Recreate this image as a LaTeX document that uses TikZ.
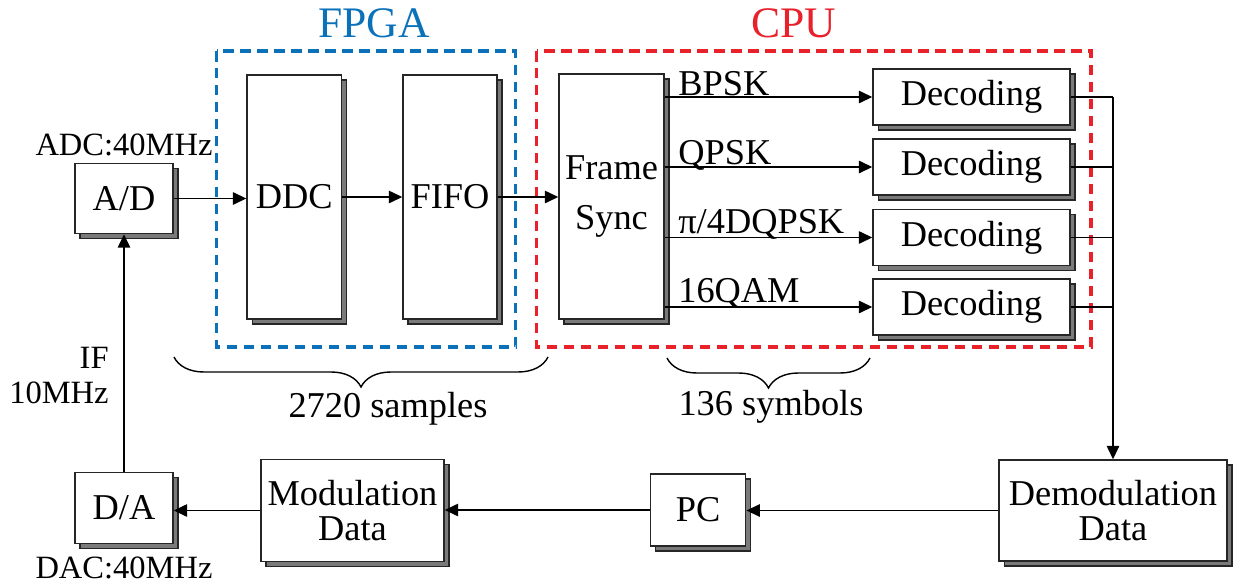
\documentclass[tikz,border=0pt]{standalone}
\usepackage{fontspec}
\setmainfont{Liberation Serif}
\usetikzlibrary{arrows.meta,shadows,decorations.pathreplacing}
\definecolor{fpgablue}{HTML}{0B72BA}
\definecolor{cpured}{HTML}{E8212B}
\definecolor{shadowgray}{HTML}{7A7A7A}
\begin{document}
\begin{tikzpicture}[x=0.02cm,y=-0.02cm,
  blk/.style={draw=black!85, line width=0.85pt, fill=white, inner sep=0pt, align=center,
    font=\fontsize{20.7}{24}\selectfont,
    general shadow={shadow xshift=0.1cm, shadow yshift=-0.1cm, fill=shadowgray, draw=black!85, line width=0.6pt}},
  arr/.style={line width=0.85pt, -{Triangle[length=0.27cm,width=0.25cm]}},
  ln/.style={line width=0.85pt},
  lbl/.style={font=\fontsize{20.7}{24}\selectfont, inner sep=0pt},
  side/.style={font=\fontsize{18.5}{22}\selectfont, inner sep=0pt},
  ttl/.style={font=\fontsize{24.8}{28}\selectfont, inner sep=0pt},
  grp/.style={line width=2pt, dash pattern=on 0.21cm off 0.13cm},
  brc/.style={line width=0.8pt, decorate, decoration={brace, mirror, amplitude=0.6cm}},
]
\useasboundingbox (0,0) rectangle (1238,585);

% group frames
\draw[grp, fpgablue] (216.7,51) rectangle (515.7,347);
\draw[grp, cpured] (536.7,51) rectangle (1091,347);
\node[ttl, text=fpgablue, anchor=base] (tfpga) at (374,37) {FPGA};
\node[ttl, text=cpured, anchor=base] (tcpu) at (794,37) {CPU};

% blocks
\node[blk, minimum width=1.96cm, minimum height=1.40cm] (ad) at (124,198.5) {A/D};
\node[blk, minimum width=1.89cm, minimum height=4.88cm] (ddc) at (294.3,197) {DDC};
\node[blk, minimum width=1.88cm, minimum height=4.88cm] (fifo) at (450,197) {FIFO};
\node[blk, minimum width=2.10cm, minimum height=4.90cm, font=\fontsize{20.7}{28.5}\selectfont] (fs) at (611.5,196.5) {Frame\\Sync};
\node[blk, minimum width=3.94cm, minimum height=1.12cm] (dec1) at (971.5,97) {Decoding};
\node[blk, minimum width=3.94cm, minimum height=1.12cm] (dec2) at (971.5,167) {Decoding};
\node[blk, minimum width=3.94cm, minimum height=1.12cm] (dec3) at (971.5,237.5) {Decoding};
\node[blk, minimum width=3.94cm, minimum height=1.12cm] (dec4) at (971.5,307) {Decoding};
\node[blk, minimum width=4.56cm, minimum height=2.02cm, font=\fontsize{20.7}{20}\selectfont] (demod) at (1113,510.5) {Demodulation\\Data};
\node[blk, minimum width=1.90cm, minimum height=1.44cm] (pc) at (698.2,510) {PC};
\node[blk, minimum width=3.66cm, minimum height=2.04cm, font=\fontsize{20.7}{19.5}\selectfont] (mod) at (352.5,510.5) {Modulation\\Data};
\node[blk, minimum width=1.96cm, minimum height=1.42cm] (da) at (124,508) {D/A};

% side labels
\node[side, anchor=base] (adc) at (124,155) {ADC:40MHz};
\node[side, anchor=base] (dac) at (124,578) {DAC:40MHz};
\node[side, anchor=base east] (if) at (109,368) {IF};
\node[side, anchor=base east] (ifr) at (109,403) {10MHz};

% main chain
\draw[arr] (ad.east) -- (ad.east -| ddc.west);
\draw[arr] (ddc.east) -- (fifo.west);
\draw[arr] (fifo.east) -- (fifo.east -| fs.west);

% frame sync outputs
\foreach \d in {dec1,dec2,dec3,dec4}{
  \draw[arr] (fs.east |- \d.west) -- (\d.west);
}
\node[lbl, anchor=base west] (lb1) at (678,95) {BPSK};
\node[lbl, anchor=base west] (lb2) at (678,164) {QPSK};
\node[lbl, anchor=base west] (lb3) at (678,233) {π/4DQPSK};
\node[lbl, anchor=base west] (lb4) at (678,302) {16QAM};

% bus to demodulation
\coordinate (bustop) at (dec1.east -| demod.north);
\foreach \d in {dec1,dec2,dec3,dec4}{
  \draw[ln] (\d.east) -- (\d.east -| demod.north);
}
\draw[arr] (bustop) -- (demod.north);

% return chain
\draw[arr] (demod.west) -- (demod.west -| pc.east);
\draw[arr] (pc.west) -- (pc.west -| mod.east);
\draw[arr] (mod.west) -- (mod.west -| da.east);
\draw[arr] (da.north) -- (ad.south);

% braces
\coordinate (b1l) at (174,357);
\coordinate (b1r) at (548,357);
\coordinate (b2l) at (667,358);
\coordinate (b2r) at (870,358);
\draw[brc] (b1l) -- (b1r);
\draw[brc] (b2l) -- (b2r);
\node[lbl, anchor=base] (samp) at (388,417) {2720 samples};
\node[lbl, anchor=base] (symb) at (771,415) {136 symbols};
\end{tikzpicture}
\end{document}
